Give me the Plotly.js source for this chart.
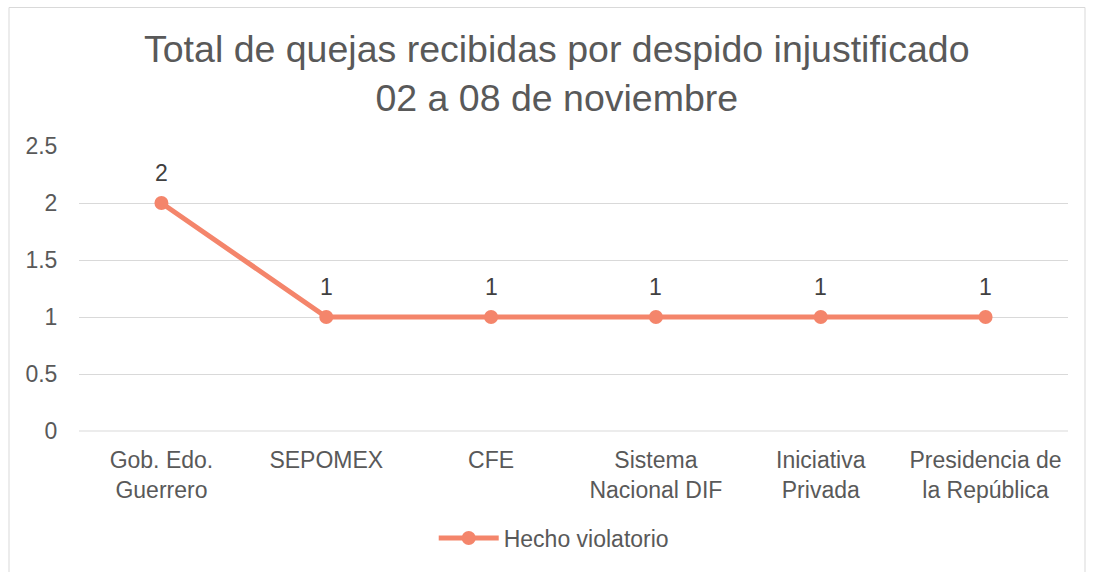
<!DOCTYPE html>
<html>
<head>
<meta charset="utf-8">
<script src="https://cdn.plot.ly/plotly-3.0.1.min.js"></script>
<style>html,body{margin:0;padding:0;background:#fff;}#chart{width:1096px;height:572px;}</style>
</head>
<body>
<div id="chart"></div>
<script>
const categories = ["Gob. Edo.<br>Guerrero", "SEPOMEX", "CFE", "Sistema<br>Nacional DIF", "Iniciativa<br>Privada", "Presidencia de<br>la República"];
const values = [2, 1, 1, 1, 1, 1];
const seriesName = "Hecho violatorio";
const yTicks = [0, 0.5, 1, 1.5, 2, 2.5];
const yTickLabels = ["0", "0.5", "1", "1.5", "2", "2.5"];

const lineColor = "#F4856B";
const textColor = "#595959";
const font = "Liberation Sans, Arial, sans-serif";

const W = 1096, H = 572;
const L = 79, R = 28, T = 146, B = 141;
const pw = W - L - R, ph = H - T - B;
const px = v => (v - L) / pw;
const py = v => (H - B - v) / ph;

const trace = {
  x: categories,
  y: values,
  type: "scatter",
  mode: "lines+markers",
  name: seriesName,
  line: {color: lineColor, width: 5},
  marker: {color: lineColor, size: 14},
  hoverinfo: "x+y"
};

const annotations = categories.map((c, i) => ({
  x: c, y: values[i], xref: "x", yref: "y",
  text: String(values[i]), showarrow: false,
  yshift: 30, font: {family: font, size: 23, color: "#404040"}
}));

const layout = {
  width: W, height: H,
  margin: {l: L, r: R, t: T, b: B, pad: 0},
  paper_bgcolor: "#ffffff",
  plot_bgcolor: "#ffffff",
  title: {
    text: "Total de quejas recibidas por despido injustificado<br>02 a 08 de noviembre",
    font: {family: font, size: 37.5, color: textColor},
    x: 0.508, xanchor: "center",
    y: 1 - 62 / H, yanchor: "middle", yref: "container"
  },
  xaxis: {
    type: "category",
    range: [-0.5, categories.length - 0.5],
    showgrid: false, zeroline: false, showline: false,
    ticks: "outside", ticklen: 8, tickcolor: "rgba(0,0,0,0)",
    tickfont: {family: font, size: 23, color: textColor}
  },
  yaxis: {
    range: [0, 2.5],
    tickvals: yTicks, ticktext: yTickLabels,
    showgrid: true, gridcolor: "#d9d9d9", gridwidth: 1,
    zeroline: false, showline: false,
    ticks: "outside", ticklen: 16, tickcolor: "rgba(0,0,0,0)",
    tickfont: {family: font, size: 23, color: textColor}
  },
  showlegend: true,
  legend: {
    orientation: "h", x: 0.480, xanchor: "center",
    y: py(538), yanchor: "middle",
    font: {family: font, size: 23, color: textColor},
    itemwidth: 60
  },
  annotations: annotations,
  shapes: [
    {type: "line", xref: "paper", yref: "paper", x0: 0, x1: 1, y0: 0, y1: 0,
     line: {color: "#d9d9d9", width: 1}},
    {type: "rect", xref: "paper", yref: "paper",
     x0: px(9), x1: px(1085), y0: py(7.5), y1: py(575),
     line: {color: "#d9d9d9", width: 1}, layer: "below"}
  ]
};

Plotly.newPlot("chart", [trace], layout, {displayModeBar: false, staticPlot: true});
</script>
</body>
</html>
